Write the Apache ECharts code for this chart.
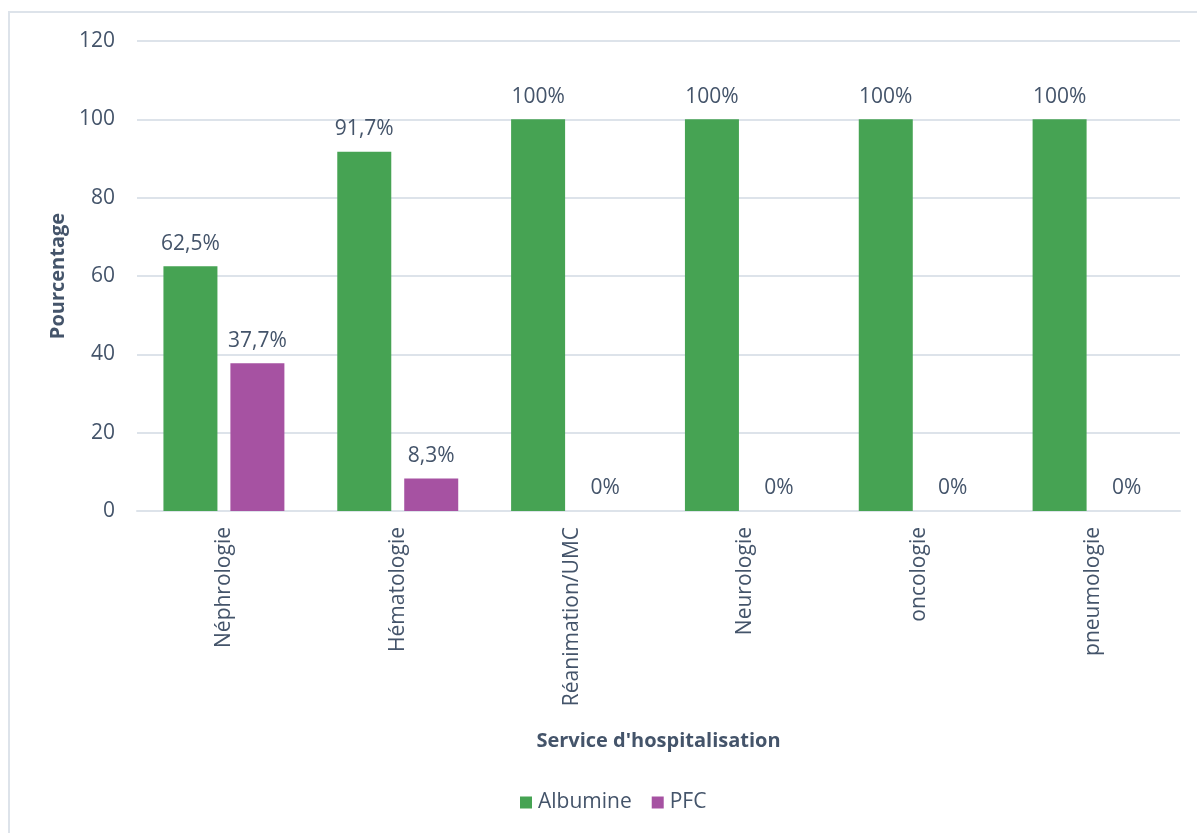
<!DOCTYPE html>
<html>
<head>
<meta charset="utf-8">
<script src="https://cdn.jsdelivr.net/npm/echarts@6/dist/echarts.min.js"></script>
<style>
  html, body { margin: 0; padding: 0; background: #fff; }
  #chart { width: 1197px; height: 833px; }
</style>
</head>
<body>
<div id="chart"></div>
<script>
// Services hospitaliers et part de chaque produit (%)
const categories = ['Néphrologie', 'Hématologie', 'Réanimation/UMC', 'Neurologie', 'oncologie', 'pneumologie'];
const albumine = [62.5, 91.7, 100, 100, 100, 100];
const pfc = [37.7, 8.3, 0, 0, 0, 0];
const yTicks = { min: 0, max: 120, interval: 20 };

const textColor = '#44546A';
const fontFamily = '"Open Sans", "Noto Sans", sans-serif';
const fs = 21;

const fmt = p => String(p.value).replace('.', ',') + '%';

const chart = echarts.init(document.getElementById('chart'));
chart.setOption({
  animation: false,
  textStyle: { fontFamily: fontFamily, color: textColor },
  graphic: [{
    type: 'rect',
    shape: { x: 9, y: 12, width: 1300, height: 900 },
    style: { fill: 'none', stroke: '#DDE3EA', lineWidth: 2 },
    silent: true
  }],
  grid: { left: 137, right: 17, top: 41, bottom: 322 },
  legend: {
    top: 787,
    left: 515,
    itemWidth: 12,
    itemHeight: 12,
    itemGap: 20,
    icon: 'rect',
    textStyle: { fontSize: fs, color: textColor, fontFamily: fontFamily, padding: [0, 0, 0, 1] },
    data: ['Albumine', 'PFC']
  },
  xAxis: {
    type: 'category',
    data: categories,
    name: "Service d'hospitalisation",
    nameLocation: 'middle',
    nameGap: 220,
    nameTextStyle: { fontSize: 20, fontWeight: 'bold', color: textColor, fontFamily: fontFamily },
    axisLine: { lineStyle: { color: '#DDE3EA', width: 2 } },
    axisTick: { show: false },
    axisLabel: { rotate: 90, fontSize: fs, color: textColor, margin: 16, fontFamily: fontFamily }
  },
  yAxis: {
    type: 'value',
    min: yTicks.min,
    max: yTicks.max,
    interval: yTicks.interval,
    name: 'Pourcentage',
    nameLocation: 'middle',
    nameGap: 68,
    nameTextStyle: { fontSize: 20, fontWeight: 'bold', color: textColor, fontFamily: fontFamily },
    axisLine: { show: false },
    axisTick: { show: false },
    axisLabel: { fontSize: fs, color: textColor, margin: 22, fontFamily: fontFamily },
    splitLine: { lineStyle: { color: '#DDE3EA', width: 2 } }
  },
  series: [
    {
      name: 'Albumine',
      type: 'bar',
      data: albumine,
      barWidth: 54,
      barGap: '24%',
      itemStyle: { color: '#46A353' },
      label: { show: true, position: 'top', distance: 12, fontSize: fs, color: textColor, formatter: fmt, fontFamily: fontFamily }
    },
    {
      name: 'PFC',
      type: 'bar',
      data: pfc,
      barWidth: 54,
      itemStyle: { color: '#A652A2' },
      label: { show: true, position: 'top', distance: 12, fontSize: fs, color: textColor, formatter: fmt, fontFamily: fontFamily }
    }
  ]
});
</script>
</body>
</html>
